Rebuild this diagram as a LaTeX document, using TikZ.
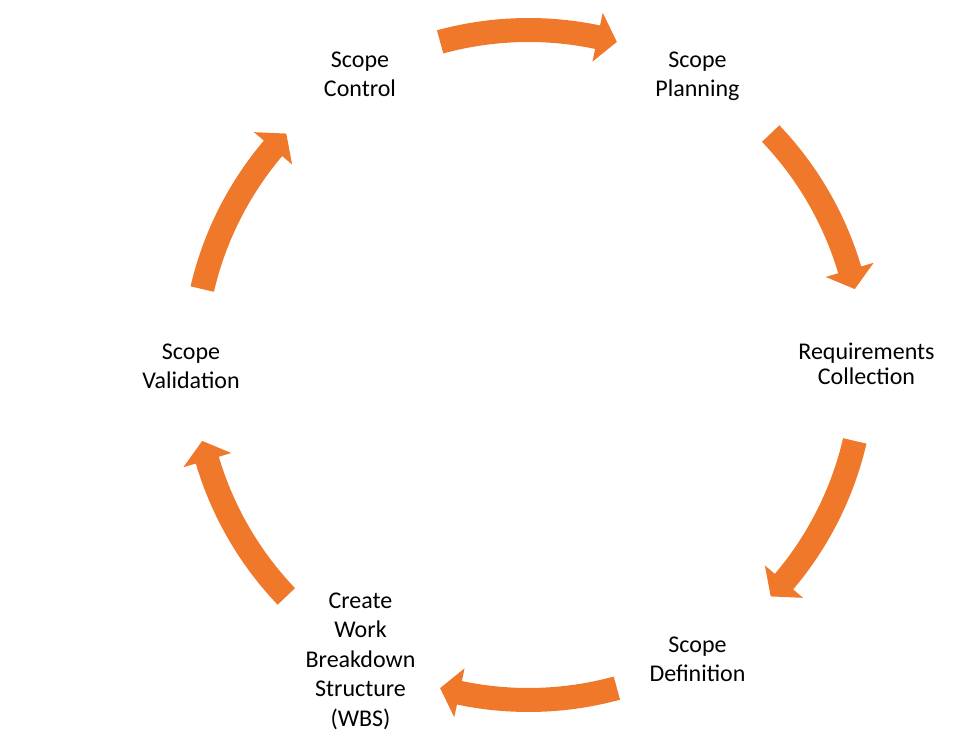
\documentclass[tikz,border=0pt]{standalone}
\usepackage{fontspec}
\setmainfont{Carlito}
\definecolor{arrorange}{HTML}{F0782A}
\tikzset{
  cyc/.style={fill=arrorange, draw=none},
  lbl/.style={align=center, inner sep=0pt, font=\fontsize{24}{29}\selectfont, anchor=base, text=black}
}
\newcommand\cycarrow[1]{%
  \fill[cyc] ({#1+15.3}:347pt) arc[start angle={#1+15.3}, end angle={#1-11.9}, radius=347pt]
    -- ({#1-11.9}:360pt) -- ({#1-15.3}:335pt) -- ({#1-11.9}:310pt) -- ({#1-11.9}:323pt)
    arc[start angle={#1-11.9}, end angle={#1+15.3}, radius=323pt] -- cycle;}
\begin{document}
\begin{tikzpicture}[x=1pt,y=1pt]
  \useasboundingbox (0,0) rectangle (953,742);
  \begin{scope}[shift={(528.5,377)}]
    \cycarrow{90}
    \cycarrow{28.4}
    \cycarrow{-28.4}
    \cycarrow{-90}
    \cycarrow{-151.6}
    \cycarrow{151.6}
  \end{scope}
  \node[lbl] (control) at (360,645) {Scope\\Control};
  \node[lbl] (planning) at (697.5,645) {Scope\\Planning};
  \node[lbl, font=\fontsize{24}{25}\selectfont] (req) at (866.5,357) {Requirements\\Collection};
  \node[lbl] (definition) at (697.5,61) {Scope\\Definition};
  \node[lbl, font=\fontsize{24}{29.5}\selectfont] (wbs) at (360.5,16) {Create\\Work\\Breakdown\\Structure\\(WBS)};
  \node[lbl] (validation) at (191,353) {Scope\\Validation};
\end{tikzpicture}
\end{document}
